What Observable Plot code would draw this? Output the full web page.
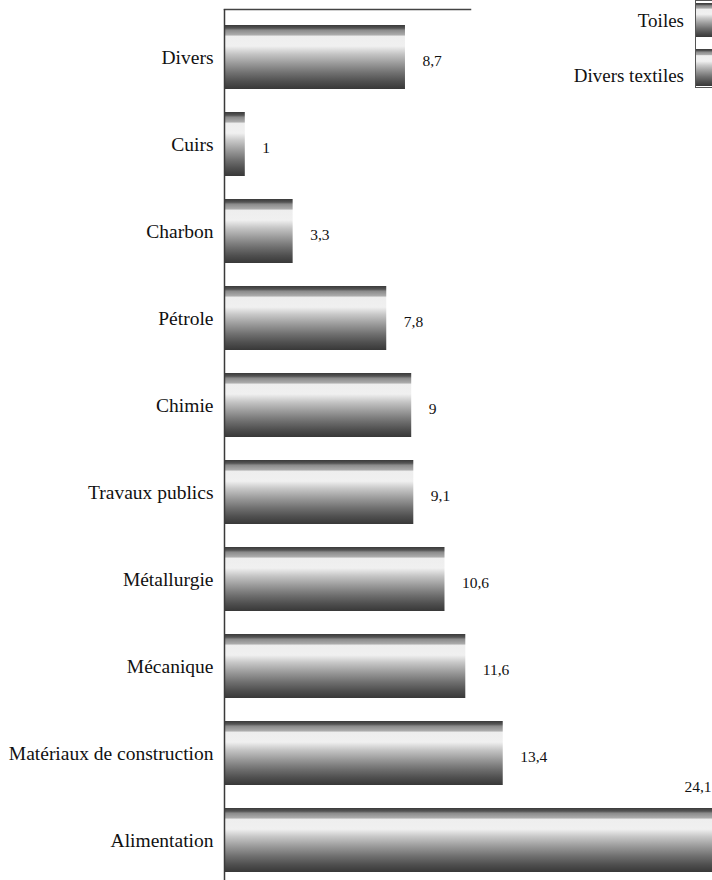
<!DOCTYPE html>
<html>
<head>
<meta charset="utf-8">
<script src="https://cdn.jsdelivr.net/npm/d3@7"></script>
<script src="https://cdn.jsdelivr.net/npm/@observablehq/plot@0.6"></script>
<style>
  html, body { margin: 0; padding: 0; background: #fff; }
  #wrap { position: relative; width: 712px; height: 880px; overflow: hidden; font-family: "Liberation Serif", "DejaVu Serif", serif; color: #111; }
  #legend { position: absolute; left: 0; top: 0; width: 712px; height: 100px; pointer-events: none; }
  .lg-label { position: absolute; right: 28px; font-size: 19px; line-height: 1; white-space: nowrap; }
  .lg-box { position: absolute; left: 695px; top: 0px; width: 40px; height: 88px; border: 1.5px solid #555; box-sizing: border-box; background: #fff; }
  .lg-sw { position: absolute; left: 0; width: 100%; }
</style>
</head>
<body>
<div id="wrap"><div id="legend"></div></div>
<script>
// ---- data ----
const categories = ["Divers", "Cuirs", "Charbon", "Pétrole", "Chimie", "Travaux publics", "Métallurgie", "Mécanique", "Matériaux de construction", "Alimentation"];
const values = [8.7, 1, 3.3, 7.8, 9, 9.1, 10.6, 11.6, 13.4, 24.1];
const valueLabels = ["8,7", "1", "3,3", "7,8", "9", "9,1", "10,6", "11,6", "13,4", "24,1"];
const legendLabels = ["Toiles", "Divers textiles"];
const xMax = 23.46;

// ---- styling ----
const stops = [
  [0, "#3a3a3a"], [0.05, "#555"], [0.08, "#8a8a8a"], [0.15, "#aaa"], [0.18, "#eee"],
  [0.33, "#f0f0f0"], [0.45, "#c6c6c6"], [0.6, "#9a9a9a"], [0.75, "#707070"], [0.88, "#505050"], [1, "#383838"]
];

const rows = categories.map((c, i) => ({category: c, value: values[i], label: valueLabels[i]}));

const plot = Plot.plot({
  width: 712,
  height: 880,
  marginLeft: 224,
  marginRight: 0,
  marginTop: 9,
  marginBottom: 0,
  style: {fontFamily: "'Liberation Serif', 'DejaVu Serif', serif", fontSize: "19.5px", color: "#111", background: "transparent", overflow: "hidden"},
  x: {domain: [0, xMax], axis: null},
  y: {domain: categories, range: [9, 887], paddingInner: 0.265, paddingOuter: 0.15, label: null, tickSize: 0, tickPadding: 11},
  marks: [
    Plot.barX(rows, {y: "category", x: "value", fill: "url(#cyl)", clip: true}),
    Plot.frame({anchor: "top", stroke: "#444", strokeWidth: 1.5, insetRight: 242}),
    Plot.ruleX([0], {stroke: "#3a3a3a", strokeWidth: 1.5}),
    Plot.text(rows.filter(d => d.value <= xMax), {y: "category", x: "value", text: "label", dx: 17, dy: 4, textAnchor: "start", fontSize: 15.5, fill: "#111"}),
    Plot.text(rows.filter(d => d.value > xMax), {y: "category", x: xMax, text: "label", dx: -1, dy: -53, textAnchor: "end", fontSize: 15.5, fill: "#111"})
  ]
});

// gradient for cylinder-like bars
const svg = d3.select(plot);
const defs = svg.insert("defs", ":first-child");
const grad = defs.append("linearGradient").attr("id", "cyl").attr("x1", 0).attr("y1", 0).attr("x2", 0).attr("y2", 1);
stops.forEach(([o, c]) => grad.append("stop").attr("offset", o).attr("stop-color", c));

const wrap = document.getElementById("wrap");
wrap.insertBefore(plot, wrap.firstChild);

// legend
const cssGrad = "linear-gradient(to bottom, " + stops.map(([o, c]) => c + " " + (o * 100) + "%").join(", ") + ")";
const legend = document.getElementById("legend");
const labelTops = [11, 66];
legendLabels.forEach((t, i) => {
  const el = document.createElement("div");
  el.className = "lg-label";
  el.style.top = labelTops[i] + "px";
  el.textContent = t;
  legend.appendChild(el);
});
const box = document.createElement("div");
box.className = "lg-box";
[[2, 34], [48, 37]].forEach(([top, h]) => {
  const s = document.createElement("div");
  s.className = "lg-sw";
  s.style.top = top + "px";
  s.style.height = h + "px";
  s.style.background = cssGrad;
  box.appendChild(s);
});
legend.appendChild(box);
</script>
</body>
</html>
